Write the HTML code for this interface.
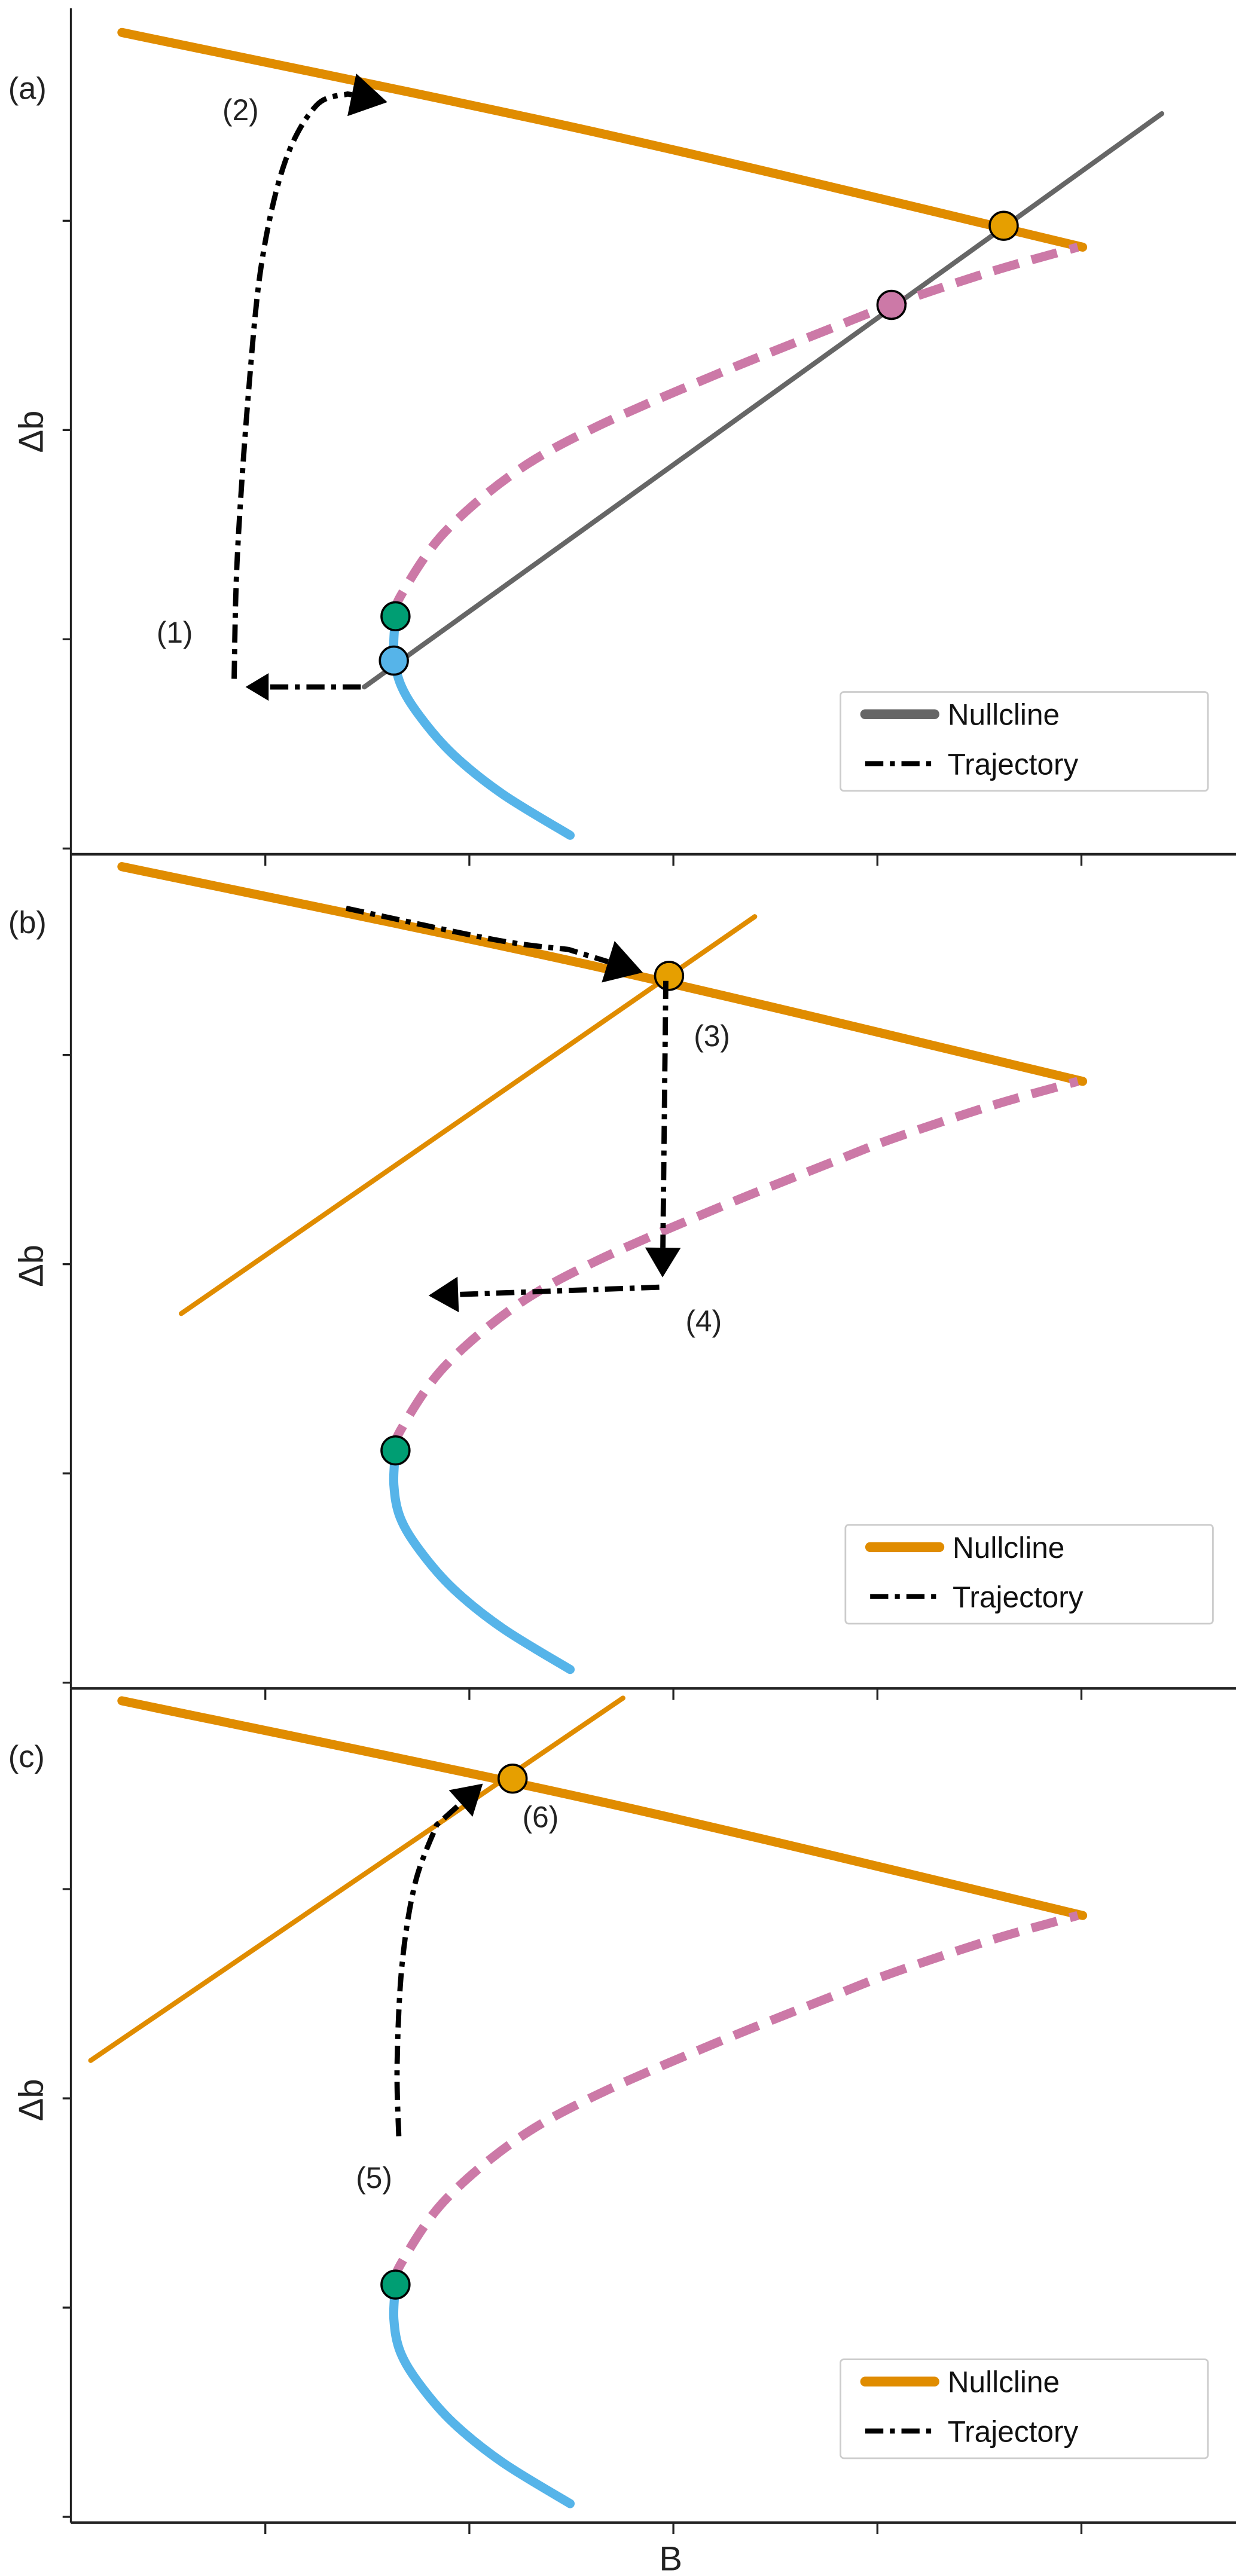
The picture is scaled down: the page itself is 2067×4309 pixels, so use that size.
<!DOCTYPE html>
<html><head><meta charset="utf-8"><style>
html,body{margin:0;padding:0;background:#fff;}
svg{display:block;}
text{font-family:"Liberation Sans","DejaVu Sans",sans-serif;}
</style></head><body>
<svg id="fig" xmlns="http://www.w3.org/2000/svg" width="2067" height="4309" viewBox="0 0 750 1563.5"></svg>
<script>
// ---- data (x in B units, y in Δb units) ----
const xTicks = [1, 2, 3, 4, 5];
const yTicks = [0, 1, 2, 3];
const panelLabels = ["(a)", "(b)", "(c)"];
const nullclineX = [0.297, 2.648, 5.006];
const nullclineY = [3.90, 3.417, 2.874];
const unstableX = [1.638, 1.662, 1.872, 2.220, 2.607, 3.197, 3.779, 4.069, 4.554, 4.982];
const unstableY = [1.110, 1.205, 1.504, 1.795, 2.008, 2.260, 2.488, 2.598, 2.756, 2.874];
const stableX = [1.638, 1.630, 1.662, 1.759, 1.921, 2.163, 2.494];
const stableY = [1.110, 0.945, 0.787, 0.630, 0.449, 0.260, 0.063];
const lineAX = [1.485, 5.394];
const lineAY = [0.772, 3.512];
const lineBX = [0.588, 3.399];
const lineBY = [1.764, 3.661];
const lineCX = [0.144, 2.753];
const lineCY = [2.181, 3.913];
const trajA1X = [1.468, 0.903];
const trajA1Y = [0.772, 0.772];
const trajA2X = [0.847, 0.863, 0.919, 0.984, 1.097, 1.250, 1.404, 1.598];
const trajA2Y = [0.811, 1.402, 2.197, 2.811, 3.283, 3.551, 3.606, 3.567];
const trajB1X = [1.396, 2.123, 2.486, 2.850];
const trajB1Y = [3.701, 3.551, 3.504, 3.394];
const trajB2X = [2.963, 2.947];
const trajB2Y = [3.354, 1.937];
const trajB3X = [2.931, 1.800];
const trajB3Y = [1.890, 1.850];
const trajCX = [1.654, 1.646, 1.670, 1.735, 1.840, 2.066];
const trajCY = [1.819, 2.165, 2.638, 3.031, 3.307, 3.504];

const NS = "http://www.w3.org/2000/svg";
const svg = document.getElementById("fig");
const offsets = [0, 506.3, 1012.6];
const X = v => 161 + (v - 1) * 123.8;
const Yf = off => v => 515 + off - v * 127;

function mk(tag, attrs, parent) {
  const e = document.createElementNS(NS, tag);
  for (const k in attrs) e.setAttribute(k, attrs[k]);
  (parent || svg).appendChild(e);
  return e;
}
function pathD(xs, ys, Y) {
  return xs.map((x, i) => (i ? "L" : "M") + X(x).toFixed(2) + "," + Y(ys[i]).toFixed(2)).join(" ");
}
function smoothD(xs, ys, Y) {
  const p = xs.map((x, i) => [X(x), Y(ys[i])]);
  let d = "M" + p[0][0] + "," + p[0][1];
  for (let i = 0; i < p.length - 1; i++) {
    const p0 = p[i - 1] || p[i], p1 = p[i], p2 = p[i + 1], p3 = p[i + 2] || p2;
    const c1 = [p1[0] + (p2[0] - p0[0]) / 6, p1[1] + (p2[1] - p0[1]) / 6];
    const c2 = [p2[0] - (p3[0] - p1[0]) / 6, p2[1] - (p3[1] - p1[1]) / 6];
    d += " C" + c1 + " " + c2 + " " + p2;
  }
  return d;
}
function curve(name, xs, ys, Y, style, smooth) {
  const e = mk("path", Object.assign({d: smooth ? smoothD(xs, ys, Y) : pathD(xs, ys, Y), fill: "none", "stroke-linecap": "round"}, style));
  
  
  return e;
}
function traj(name, xs, ys, Y, size) {
  const n = xs.length;
  const tx = X(xs[n - 1]), ty = Y(ys[n - 1]);
  const px = X(xs[n - 2]), py = Y(ys[n - 2]);
  const dx = tx - px, dy = ty - py, L = Math.hypot(dx, dy), ux = dx / L, uy = dy / L;
  const bx = tx - ux * size, by = ty - uy * size;
  const xs2 = xs.slice(0, n - 1), ys2 = ys.slice(0, n - 1);
  const e = mk("path", {d: smoothD(xs2, ys2, Y) + " L" + bx + "," + by, fill: "none", stroke: "#000", "stroke-width": 3.2, "stroke-dasharray": "11 4 3 4"});
  
  
  const w = size * 0.6;
  const h = mk("polygon", {points: tx + "," + ty + " " + (bx - uy * w) + "," + (by + ux * w) + " " + (bx + uy * w) + "," + (by - ux * w), fill: "#000"});
  
  
}
function dot(name, x, y, Y, color) {
  const c = mk("circle", {cx: X(x), cy: Y(y), r: 8.5, fill: color, stroke: "#000", "stroke-width": 1.3});
  
  
}
function text(name, str, x, y, size, extra) {
  const t = mk("text", Object.assign({x: x, y: y, "font-size": size, fill: "#222"}, extra || {}));
  t.textContent = str;
  
  
  return t;
}

offsets.forEach((off, pi) => {
  const Y = Yf(off);
  const top = pi === 0 ? 5 : 518.5 + (pi - 1) * 506.3;
  const bottom = 518.5 + off;
  const ls = mk("line", {x1: 43, y1: top, x2: 43, y2: bottom, stroke: "#222", "stroke-width": 1.2});
  
  
  const bs = mk("line", {x1: 43, y1: bottom, x2: 750, y2: bottom, stroke: "#222", "stroke-width": 1.6});
  
  
  yTicks.forEach(v => {
    const t = mk("line", {x1: 38, y1: Y(v), x2: 43, y2: Y(v), stroke: "#222", "stroke-width": 1.2});
    
    
  });
  xTicks.forEach(v => {
    const t = mk("line", {x1: X(v), y1: bottom, x2: X(v), y2: bottom + 7, stroke: "#222", "stroke-width": 1.2});
    
    
  });
  text('panel-label', panelLabels[pi], 5, 60 + off, 19);
  text('y-axis-title', "Δb", 26, 262 + off, 21, {transform: "rotate(-90 26 " + (262 + off) + ")", "text-anchor": "middle"});

  if (pi === 0) curve('nullcline-line', lineAX, lineAY, Y, {stroke: "#666", "stroke-width": 3});
  if (pi === 1) curve('nullcline-line', lineBX, lineBY, Y, {stroke: "#e08c00", "stroke-width": 3});
  if (pi === 2) curve('nullcline-line', lineCX, lineCY, Y, {stroke: "#e08c00", "stroke-width": 3});
  curve('stable-upper-branch', nullclineX, nullclineY, Y, {stroke: "#e08c00", "stroke-width": 5.5}, true);
  curve('unstable-branch', unstableX, unstableY, Y, {stroke: "#cc79a7", "stroke-width": 5.5, "stroke-dasharray": "16 8", "stroke-linecap": "butt"}, true);
  curve('stable-lower-branch', stableX, stableY, Y, {stroke: "#56b4e9", "stroke-width": 5.5}, true);

  const lg = mk("g", {});
  
  
  const ly = [420, 925.5, 1432][pi];
  const lx = pi === 1 ? 513 : 510;
  mk("rect", {x: lx, y: ly, width: 223, height: 60, fill: "#fff", stroke: "#ccc", "stroke-width": 1, rx: 2}, lg);
  const l1 = mk("line", {x1: lx + 15, y1: ly + 13.5, x2: lx + 57, y2: ly + 13.5, stroke: pi === 0 ? "#666" : "#e08c00", "stroke-width": 6, "stroke-linecap": "round"}, lg);
  
  
  const l2 = mk("line", {x1: lx + 15, y1: ly + 43.5, x2: lx + 57, y2: ly + 43.5, stroke: "#000", "stroke-width": 3, "stroke-dasharray": "11 4 3 4"}, lg);
  
  
  const t1 = mk("text", {x: lx + 65, y: ly + 20, "font-size": 18, fill: "#111"}, lg);
  t1.textContent = "Nullcline";
  
  
  const t2 = mk("text", {x: lx + 65, y: ly + 50, "font-size": 18, fill: "#111"}, lg);
  t2.textContent = "Trajectory";
  
  

  if (pi === 0) {
    traj('trajectory-step-1', trajA1X, trajA1Y, Y, 14);
    traj('trajectory-step-2', trajA2X, trajA2Y, Y, 22);
    dot('lower-fixed-point', 1.630, 0.898, Y, "#56b4e9");
    dot('saddle-node-point', 1.638, 1.110, Y, "#009e73");
    dot('unstable-fixed-point', 4.069, 2.598, Y, "#cc79a7");
    dot('upper-fixed-point', 4.619, 2.976, Y, "#e69f00");
    text('annotation-1', "(1)", 95, 390, 18);
    text('annotation-2', "(2)", 135, 73, 18);
  } else if (pi === 1) {
    traj('trajectory-step-3', trajB1X, trajB1Y, Y, 22);
    dot('upper-fixed-point', 2.979, 3.378, Y, "#e69f00");
    traj('trajectory-step-4-down', trajB2X, trajB2Y, Y, 18);
    traj('trajectory-step-4-left', trajB3X, trajB3Y, Y, 18);
    dot('saddle-node-point', 1.638, 1.110, Y, "#009e73");
    text('annotation-3', "(3)", 421, 635, 18);
    text('annotation-4', "(4)", 416, 808, 18);
  } else {
    traj('trajectory-step-5', trajCX, trajCY, Y, 18);
    dot('upper-fixed-point', 2.212, 3.528, Y, "#e69f00");
    dot('saddle-node-point', 1.638, 1.110, Y, "#009e73");
    text('annotation-5', "(5)", 216, 1328, 18);
    text('annotation-6', "(6)", 317, 1109, 18);
  }
});
text('x-axis-title', "B", 407, 1560, 21, {"text-anchor": "middle"});
</script>
</body></html>
